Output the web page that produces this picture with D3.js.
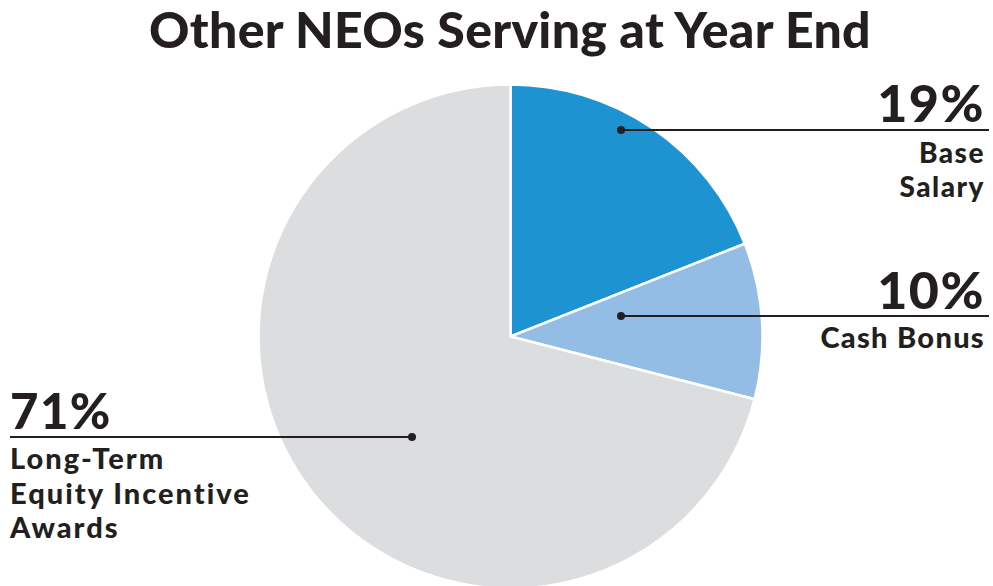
<!DOCTYPE html>
<html>
<head>
<meta charset="utf-8">
<script src="https://cdn.jsdelivr.net/npm/d3@7"></script>
<style>
  body { margin: 0; background: #fff; }
  text { font-family: Lato, "Open Sans", sans-serif; font-weight: 900; fill: #231f20; }
</style>
</head>
<body>
<div class="chart"></div>
<script>
var svgWidth = 993;
var svgHeight = 586;

// data
var categories = ["Base Salary", "Cash Bonus", "Long-Term Equity Incentive Awards"];
var shares = [19, 10, 71];
var pctLabels = ["19%", "10%", "71%"];
var nameLines = [["Base", "Salary"], ["Cash Bonus"], ["Long-Term", "Equity Incentive", "Awards"]];
var colors = ["#1e93d2", "#94bde6", "#dcdddf"];

var cx = 510.5, cy = 336.5, radius = 252;

var svg = d3.select(".chart")
  .append("svg")
  .attr("width", svgWidth)
  .attr("height", svgHeight);

svg.append("text")
  .attr("x", 510)
  .attr("y", 48)
  .attr("text-anchor", "middle")
  .attr("font-size", "50px")
  .attr("letter-spacing", "0.3px")
  .text("Other NEOs Serving at Year End");

var pie = d3.pie().sort(null).value(d => d);
var arc = d3.arc().innerRadius(0).outerRadius(radius);
var arcs = pie(shares);

var pieGroup = svg.append("g")
  .attr("transform", `translate(${cx}, ${cy})`);

pieGroup.selectAll("path")
  .data(arcs)
  .enter()
  .append("path")
  .attr("d", arc)
  .attr("fill", (d, i) => colors[i])
  .attr("stroke", "#fff")
  .attr("stroke-width", 2.5);

// callout layout (dot offset from pie centre, line height, text rows)
var callouts = [
  { side: "right", dot: [110.5, -206.5], pctY: 122, pctSize: 52, nameY: [163, 197], nameSize: 28, ls: 1.5 },
  { side: "right", dot: [110.5, -20.5],  pctY: 309, pctSize: 52, nameY: [348], nameSize: 29, ls: 1.3 },
  { side: "left",  dot: [-98.5, 100.5],  pctY: 429, pctSize: 49, nameY: [469, 504, 538], nameSize: 29, ls: 2 }
];

var labelGroup = svg.append("g");
callouts.forEach(function(c, i) {
  var dx = cx + c.dot[0], dy = cy + c.dot[1];
  var x2 = c.side === "right" ? 989 : 10;
  labelGroup.append("line")
    .attr("x1", dx).attr("y1", dy)
    .attr("x2", x2).attr("y2", dy)
    .attr("stroke", "#231f20")
    .attr("stroke-width", 2);
  labelGroup.append("circle")
    .attr("cx", dx).attr("cy", dy)
    .attr("r", 4)
    .attr("fill", "#231f20");
  var tx = c.side === "right" ? 985 : 10;
  var anchor = c.side === "right" ? "end" : "start";
  labelGroup.append("text")
    .attr("x", tx).attr("y", c.pctY)
    .attr("text-anchor", anchor)
    .attr("font-size", c.pctSize + "px")
    .attr("letter-spacing", "1.5px")
    .text(pctLabels[i]);
  nameLines[i].forEach(function(line, j) {
    labelGroup.append("text")
      .attr("x", tx).attr("y", c.nameY[j])
      .attr("text-anchor", anchor)
      .attr("font-size", c.nameSize + "px")
      .attr("letter-spacing", c.ls + "px")
      .text(line);
  });
});
</script>
</body>
</html>
